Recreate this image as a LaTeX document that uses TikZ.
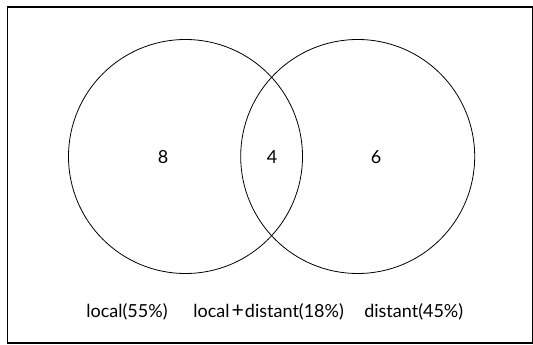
\documentclass[tikz,border=0pt]{standalone}
\usepackage{fontspec}
\setmainfont{Lato}
\begin{document}
\begin{tikzpicture}[x=0.75pt,y=-0.75pt,
  venn/.style={draw=black,line width=0.6pt},
  num/.style={font=\fontsize{13.5}{16}\selectfont,inner sep=0pt},
  lab/.style={font=\fontsize{13.5}{16}\selectfont,inner sep=0pt,anchor=base}]
\useasboundingbox (0,0) rectangle (533,345);
\node[draw=black,line width=1pt,minimum width=525*0.75pt,minimum height=336*0.75pt,inner sep=0pt,anchor=north west] (frame) at (7,6.5) {};
\node[venn,circle,minimum size=234*0.75pt,inner sep=0pt] (L) at (185.5,156.5) {};
\node[venn,circle,minimum size=234*0.75pt,inner sep=0pt] (R) at (357.7,156.5) {};
\node[num] (n8) at (163,157) {8};
\node[num] (n4) at (272,157) {4};
\node[num] (n6) at (376,157) {6};
\node[lab] (l1) at (127,318) {local(55\%)};
\node[lab] (l2) at (268.6,318) {local\hspace{0.12em}{\fontsize{16}{16}\selectfont+}\hspace{0.05em}distant(18\%)};
\node[lab] (l3) at (413.7,318) {distant(45\%)};
\end{tikzpicture}
\end{document}
